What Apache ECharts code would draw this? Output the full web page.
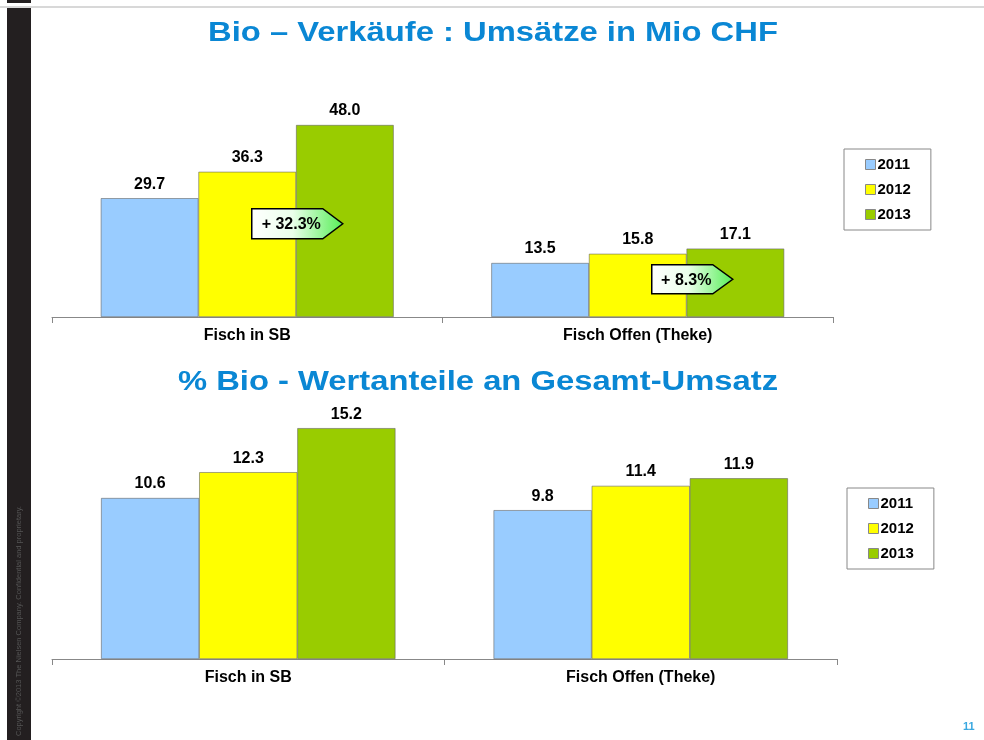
<!DOCTYPE html>
<html>
<head>
<meta charset="utf-8">
<script src="https://cdn.jsdelivr.net/npm/echarts@6/dist/echarts.min.js"></script>
<style>
  html, body { margin: 0; padding: 0; background: #fff; }
  #main { width: 984px; height: 740px; }
</style>
</head>
<body>
<div id="main"></div>
<script>
// Daten
var categories = ["Fisch in SB", "Fisch Offen (Theke)"];
var years = ["2011", "2012", "2013"];
var colors = ["#99ccff", "#ffff00", "#99cc00"];
// Umsätze in Mio CHF
var umsatz2011 = [29.7, 13.5];
var umsatz2012 = [36.3, 15.8];
var umsatz2013 = [48.0, 17.1];
// Wertanteile in %
var anteil2011 = [10.6, 9.8];
var anteil2012 = [12.3, 11.4];
var anteil2013 = [15.2, 11.9];
// Titel und Pfeile mit Wachstum
var titles = ["Bio – Verkäufe : Umsätze in Mio CHF", "% Bio - Wertanteile an Gesamt-Umsatz"];
var growthLabels = ["+ 32.3%", "+ 8.3%"];

var font = "Liberation Sans, Arial, sans-serif";

function barSeries(name, data, idx, color) {
  return {
    name: name,
    type: "bar",
    xAxisIndex: idx,
    yAxisIndex: idx,
    data: data,
    barGap: "0%",
    barCategoryGap: "25%",
    itemStyle: { color: color, borderColor: "#666", borderWidth: 0.6 },
    label: {
      show: true,
      position: "top",
      distance: 6,
      formatter: function (p) { return p.value.toFixed(1); },
      color: "#000",
      fontFamily: font,
      fontWeight: "bold",
      fontSize: 16
    }
  };
}

function arrow(x, y, w, h, text) {
  return {
    type: "group",
    left: x, top: y, z: 100,
    children: [
      {
        type: "polygon", z: 100,
        shape: { points: [[0, 0], [w - 20, 0], [w, h / 2], [w - 20, h], [0, h]] },
        style: {
          fill: new echarts.graphic.LinearGradient(0, 0, 1, 0, [
            { offset: 0, color: "#ffffff" },
            { offset: 0.45, color: "#eaffea" },
            { offset: 1, color: "#55ee55" }
          ]),
          stroke: "#000", lineWidth: 1.5
        }
      },
      {
        type: "text", z: 101,
        style: {
          x: (w - 20) / 2 + 4, y: h / 2 + 1, text: text,
          align: "center", verticalAlign: "middle",
          font: "bold 16px " + font, fill: "#000"
        }
      }
    ]
  };
}

function titleText(x, y, text) {
  return {
    type: "text", x: x, y: y, scaleX: 1.17, z: 100,
    style: {
      text: text, align: "center", verticalAlign: "middle",
      font: "bold 28px " + font, fill: "#0a87d4"
    }
  };
}

var myChart = echarts.init(document.getElementById("main"));

var axisCommon = {
  type: "category",
  data: categories,
  axisLine: { lineStyle: { color: "#888", width: 1 } },
  axisTick: { show: true, length: 6, lineStyle: { color: "#888" } },
  axisLabel: { color: "#000", fontFamily: font, fontWeight: "bold", fontSize: 16, margin: 11 }
};

var legendCommon = {
  orient: "vertical",
  data: years,
  itemWidth: 10,
  itemHeight: 10,
  itemGap: 10,
  padding: [8, 20, 8, 21],
  borderColor: "#888",
  borderWidth: 1,
  borderRadius: 0,
  icon: "rect",
  itemStyle: { borderColor: "#888", borderWidth: 1 },
  textStyle: { color: "#000", fontFamily: font, fontWeight: "bold", fontSize: 15, padding: [0, 0, 0, -3] },
  selectedMode: false
};

var option = {
  animation: false,
  backgroundColor: "#fff",
  legend: [
    Object.assign({ left: 844, top: 149 }, legendCommon),
    Object.assign({ left: 847, top: 488 }, legendCommon)
  ],
  grid: [
    { left: 52, right: 151, top: 77, bottom: 740 - 317 },
    { left: 52, right: 147, top: 416, bottom: 740 - 659 }
  ],
  xAxis: [
    Object.assign({ gridIndex: 0 }, axisCommon),
    Object.assign({ gridIndex: 1 }, axisCommon)
  ],
  yAxis: [
    { gridIndex: 0, type: "value", min: 0, max: 60, show: false },
    { gridIndex: 1, type: "value", min: 0, max: 16, show: false }
  ],
  series: [
    barSeries("2011", umsatz2011, 0, colors[0]),
    barSeries("2012", umsatz2012, 0, colors[1]),
    barSeries("2013", umsatz2013, 0, colors[2]),
    barSeries("2011", anteil2011, 1, colors[0]),
    barSeries("2012", anteil2012, 1, colors[1]),
    barSeries("2013", anteil2013, 1, colors[2])
  ],
  graphic: [
    // Linke dunkle Leiste + Trennlinie oben
    { type: "rect", shape: { x: 7, y: 0, width: 24, height: 3 }, style: { fill: "#231f20" } },
    { type: "line", shape: { x1: 0, y1: 7, x2: 984, y2: 7 }, style: { stroke: "#d8d8d8", lineWidth: 2 } },
    { type: "rect", shape: { x: 7, y: 8, width: 24, height: 732 }, style: { fill: "#231f20" } },
    {
      type: "text", x: 19, y: 736, rotation: Math.PI / 2,
      style: {
        text: "Copyright ©2013 The Nielsen Company. Confidential and proprietary.",
        font: "7.5px " + font, fill: "#555", align: "left", verticalAlign: "middle"
      }
    },
    titleText(493, 33, titles[0]),
    titleText(478, 382, titles[1]),
    arrow(251, 208, 91, 30, growthLabels[0]),
    arrow(651, 264, 81, 29, growthLabels[1]),
    {
      type: "text", left: 963, top: 721,
      style: { text: "11", font: "bold 11px " + font, fill: "#3aa8e0" }
    }
  ]
};

myChart.setOption(option);
</script>
</body>
</html>
